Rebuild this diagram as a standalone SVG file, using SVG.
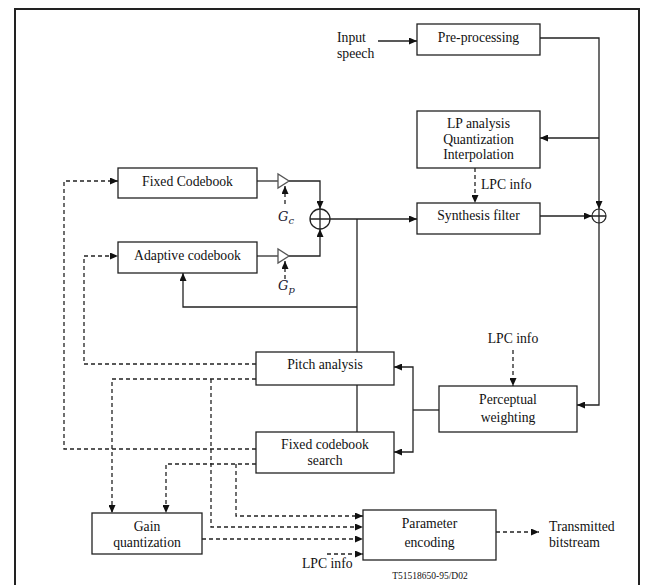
<svg xmlns="http://www.w3.org/2000/svg" width="645" height="585" viewBox="0 0 645 585">
<defs>
<marker id="ah" markerUnits="userSpaceOnUse" markerWidth="8" markerHeight="7" refX="8" refY="3.5" orient="auto">
<path d="M0,0 L8,3.5 L0,7 z" fill="#111"/>
</marker>
<style>
.box{fill:#fff;stroke:#222;stroke-width:1.3}
.ln{fill:none;stroke:#222;stroke-width:1.3}
.gr{fill:none;stroke:#555;stroke-width:1.6}
.d{fill:none;stroke:#222;stroke-width:1.3;stroke-dasharray:4 3}
.a{marker-end:url(#ah)}
text{font-family:"Liberation Serif","Times New Roman",serif;font-size:13.7px;fill:#111}
.c{text-anchor:middle}
.m{font-family:"DejaVu Serif","Liberation Serif",serif;font-style:italic;font-size:13px;fill:#1a1a33}
.sub{font-size:10px}
</style>
</defs>
<rect x="0" y="0" width="645" height="585" fill="#fff"/>
<rect x="15" y="9" width="624" height="600" fill="none" stroke="#222" stroke-width="2"/>

<g id="connectors">
<path class="ln a" d="M378,41 H417"/>
<path class="ln a" d="M540,38 H599 V209"/>
<path class="ln a" d="M599,138 H540"/>
<path class="d a" d="M475,168 V203"/>
<path class="ln a" d="M540,216 H592"/>
<path class="ln a" d="M599,223 V405 H577"/>
<path class="ln" d="M439,410 H413"/>
<path class="ln a" d="M413,410 V367 H394"/>
<path class="ln a" d="M413,410 V452 H394"/>
<path class="d a" d="M513,350 V386"/>
<path class="gr" d="M257,181 H278"/>
<path class="ln a" d="M289,181 H320 V209"/>
<path class="gr" d="M257,256 H278"/>
<path class="ln a" d="M289,256 H320 V229"/>
<path class="d a" d="M285,204 V186"/>
<path class="d a" d="M285,279 V261"/>
<path class="ln a" d="M330,219 H417"/>
<path class="ln" d="M357,219 V352"/>
<path class="ln a" d="M357,307 H183 V273"/>
<path class="ln" d="M357,385 V432"/>
<path class="d a" d="M256,364 H84 V256 H118"/>
<path class="d a" d="M256,449 H64 V181 H118"/>
<path class="d a" d="M256,379 H112 V513"/>
<path class="d a" d="M211,379 V527 H363"/>
<path class="d a" d="M256,464 H166 V513"/>
<path class="d a" d="M236,464 V516 H363"/>
<path class="d a" d="M202,539 H363"/>
<path class="d a" d="M327,554 H363"/>
<path class="d a" d="M496,532 H539"/>
</g>

<g id="input-label">
<text x="337" y="42">Input</text>
<text x="337" y="58">speech</text>
</g>
<g id="preprocessing">
<rect class="box" x="417" y="24" width="123" height="31"/>
<text class="c" x="478.5" y="42">Pre-processing</text>
</g>
<g id="lp-analysis">
<rect class="box" x="417" y="111" width="123" height="57"/>
<text class="c" x="478.5" y="128">LP analysis</text>
<text class="c" x="478.5" y="144">Quantization</text>
<text class="c" x="478.5" y="159">Interpolation</text>
</g>
<g id="lpc-info-1"><text x="481" y="189">LPC info</text></g>
<g id="synthesis-filter">
<rect class="box" x="417" y="203" width="123" height="31"/>
<text class="c" x="478.5" y="220">Synthesis filter</text>
</g>
<g id="sum2">
<circle cx="599" cy="216" r="7" fill="#fff" stroke="#222" stroke-width="1.2"/>
<path class="ln" d="M592,216 H606 M599,209 V223" stroke-width="1"/>
</g>
<g id="fixed-codebook">
<rect class="box" x="118" y="168" width="139" height="30"/>
<text class="c" x="187.5" y="186">Fixed Codebook</text>
</g>
<g id="adaptive-codebook">
<rect class="box" x="118" y="242" width="139" height="31"/>
<text class="c" x="187.5" y="260">Adaptive codebook</text>
</g>
<g id="gain-c">
<polygon points="278,174 278,188 289,181" fill="#fff" stroke="#555" stroke-width="1.3"/>
<text class="m" x="278" y="221">G<tspan class="sub" dy="3">c</tspan></text>
</g>
<g id="gain-p">
<polygon points="278,249 278,263 289,256" fill="#fff" stroke="#555" stroke-width="1.3"/>
<text class="m" x="278" y="290">G<tspan class="sub" dy="3">p</tspan></text>
</g>
<g id="sum1">
<circle cx="320" cy="219" r="10" fill="#fff" stroke="#222" stroke-width="1.3"/>
<path class="ln" d="M310,219 H330 M320,209 V229" stroke-width="1"/>
</g>
<g id="pitch-analysis">
<rect class="box" x="256" y="352" width="138" height="33"/>
<text class="c" x="325" y="369">Pitch analysis</text>
</g>
<g id="fixed-codebook-search">
<rect class="box" x="256" y="432" width="138" height="41"/>
<text class="c" x="325" y="449">Fixed codebook</text>
<text class="c" x="325" y="465">search</text>
</g>
<g id="lpc-info-2"><text class="c" x="513" y="343">LPC info</text></g>
<g id="perceptual-weighting">
<rect class="box" x="439" y="386" width="138" height="46"/>
<text class="c" x="508" y="404">Perceptual</text>
<text class="c" x="508" y="422">weighting</text>
</g>
<g id="gain-quantization">
<rect class="box" x="92" y="513" width="110" height="41"/>
<text class="c" x="147" y="531">Gain</text>
<text class="c" x="147" y="547">quantization</text>
</g>
<g id="parameter-encoding">
<rect class="box" x="363" y="510" width="133" height="50"/>
<text class="c" x="429.5" y="528">Parameter</text>
<text class="c" x="429.5" y="547">encoding</text>
</g>
<g id="lpc-info-3"><text x="302" y="568">LPC info</text></g>
<g id="transmitted">
<text x="549" y="531">Transmitted</text>
<text x="549" y="547">bitstream</text>
</g>
<text class="c" x="430" y="579" style="font-size:9.5px">T51518650-95/D02</text>
</svg>
